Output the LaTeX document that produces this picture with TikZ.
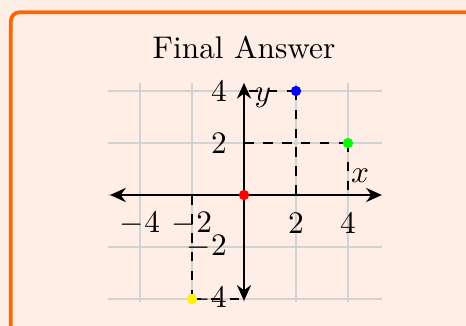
\documentclass[tikz,border=0pt]{standalone}
\usetikzlibrary{arrows.meta}

\definecolor{oranye}{RGB}{255,102,0}
\definecolor{krem}{RGB}{255,238,230}

\begin{document}
\begin{tikzpicture}[x=8.3pt,y=8.3pt,
      bingkai/.style={draw=oranye,line width=1.2pt,rounded corners=2.85pt},
      kisi/.style={draw=gray!35,line width=0.4pt},
      sumbu/.style={thick,{Stealth[length=5pt,width=4.5pt]}-{Stealth[length=5pt,width=4.5pt]}},
      bantu/.style={dashed,thin},
      titik/.style={circle,fill=#1,inner sep=0pt,minimum size=3.3pt},
      angka/.style={inner sep=0pt}]

    % Latar dan bingkai kotak jawaban
    \useasboundingbox (-9.385,-5.038) rectangle (8.538,7.5);
    \clip (-9.385,-5.038) rectangle (8.538,7.5);
    \fill[krem] (-9.385,-5.038) rectangle (8.538,7.5);
    \draw[bingkai] (-8.97,-9) rectangle (13,7.03);

    \node (judul) at (0,5.69) {Final Answer};

    % Kisi
    \draw[kisi] (-5.25,-4.1) grid[step=2] (5.3,4.3);

    % Titik yang ditanyakan
    \coordinate (o) at (0,0);
    \coordinate (pA) at (2,4);
    \coordinate (pB) at (4,2);
    \coordinate (pC) at (-2,-4);

    % Garis bantu ke kedua sumbu
    \foreach \p in {pA,pB,pC}
      {\draw[bantu] (\p) -- (\p -| o);
       \draw[bantu] (\p) -- (\p |- o);}

    % Sumbu
    \coordinate (xkiri) at (-5.15,0);
    \coordinate (xkanan) at (5.3,0);
    \coordinate (ybawah) at (0,-4.07);
    \coordinate (yatas) at (0,4.31);
    \draw[sumbu] (xkiri) -- (xkanan);
    \draw[sumbu] (ybawah) -- (yatas);

    \node (lx) at (4.46,0.73) {$x$};
    \node (ly) at (0.73,3.73) {$y$};

    % Angka pada sumbu
    \foreach \n [count=\i] in {-4,-2,2,4}
      {\node[angka] (ax\i) at (\n,-1.09) {$\n$};
       \node[angka,anchor=east] (ay\i) at (-0.64,\n) {$\n$};}

    % Titik-titik berwarna
    \node[titik=red] (tO) at (o) {};
    \node[titik=blue] (tA) at (pA) {};
    \node[titik=green] (tB) at (pB) {};
    \node[titik=yellow] (tC) at (pC) {};
  \end{tikzpicture}
\end{document}
